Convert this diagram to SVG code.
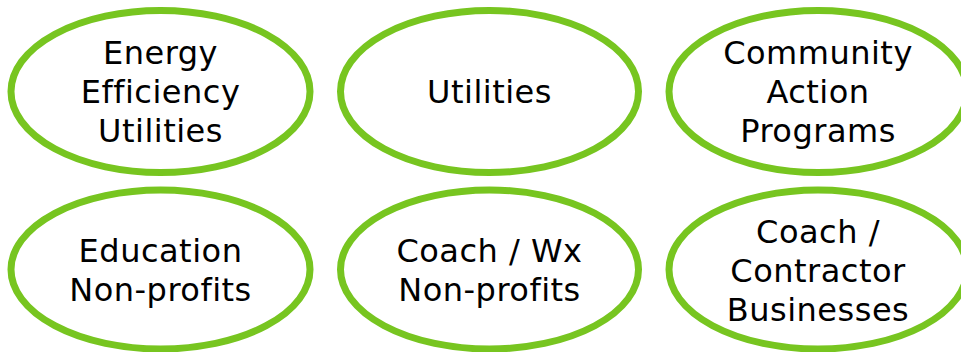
<svg xmlns="http://www.w3.org/2000/svg" width="961" height="352" viewBox="0 0 961 352">
<style>
.n ellipse{fill:#ffffff;stroke:#77c520;stroke-width:7}
.n text{font-family:"DejaVu Sans","Liberation Sans",sans-serif;font-size:32px;letter-spacing:0.5px;fill:#000000;text-anchor:middle}
</style>
<rect width="961" height="352" fill="#ffffff"/>
<g id="connectors"></g>
<g id="n1" class="n"><ellipse cx="160.5" cy="91.5" rx="149.5" ry="81"/>
<text x="160.5" y="64">Energy</text><text x="160.5" y="103">Efficiency</text><text x="160.5" y="142">Utilities</text></g>
<g id="n2" class="n"><ellipse cx="489.5" cy="91.5" rx="149" ry="81"/>
<text x="489.5" y="103">Utilities</text></g>
<g id="n3" class="n"><ellipse cx="818" cy="91.5" rx="149" ry="81"/>
<text x="818" y="64">Community</text><text x="818" y="103">Action</text><text x="818" y="142">Programs</text></g>
<g id="n4" class="n"><ellipse cx="160.5" cy="269.5" rx="149.5" ry="79.5"/>
<text x="160.5" y="261.5">Education</text><text x="160.5" y="301">Non-profits</text></g>
<g id="n5" class="n"><ellipse cx="489.5" cy="269.5" rx="149" ry="79.5"/>
<text x="489.5" y="261.5">Coach / Wx</text><text x="489.5" y="301">Non-profits</text></g>
<g id="n6" class="n"><ellipse cx="818" cy="269.5" rx="149" ry="79.5"/>
<text x="818" y="243">Coach /</text><text x="818" y="282">Contractor</text><text x="818" y="321">Businesses</text></g>
</svg>
